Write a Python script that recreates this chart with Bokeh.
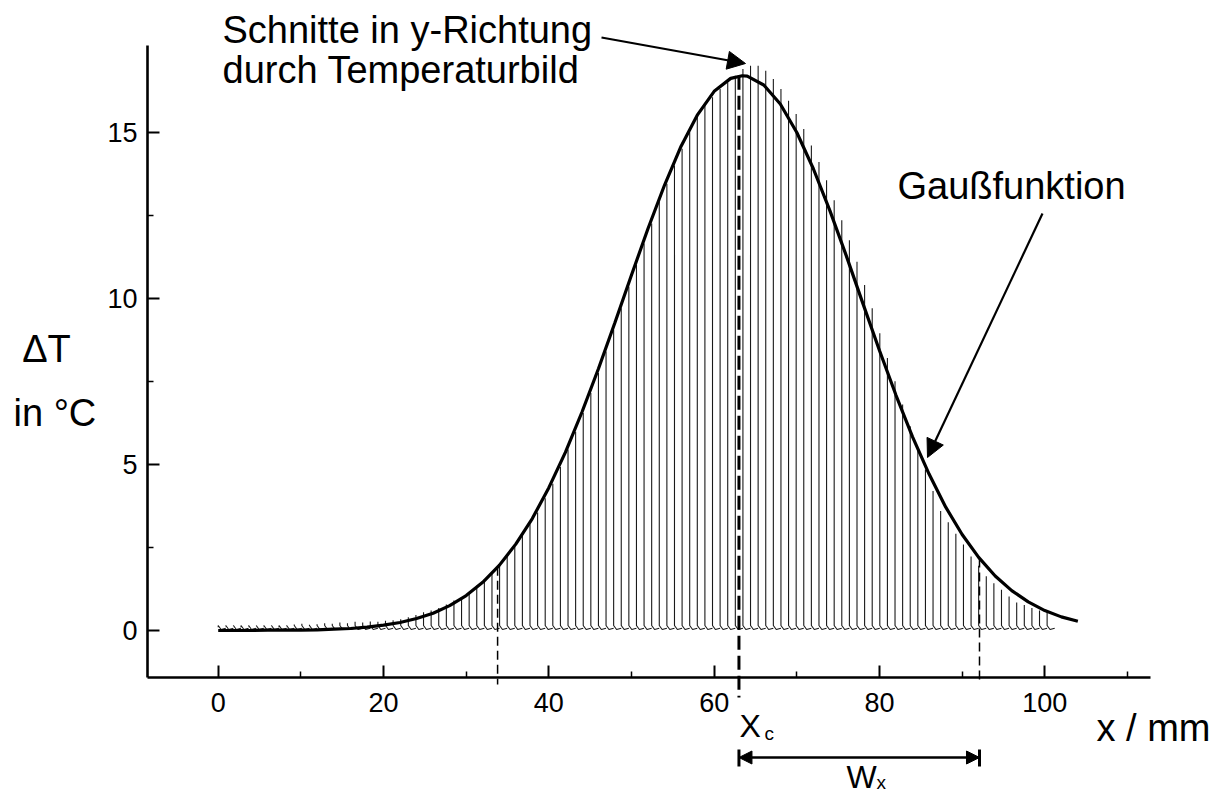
import numpy as np
from bokeh.plotting import figure
from bokeh.models import Range1d, FixedTicker, Label, Arrow, NormalHead
from bokeh.embed import file_html
from bokeh.resources import INLINE

# ---------------- data ----------------
x_ticks = [0, 20, 40, 60, 80, 100]
x_minor = [10, 30, 50, 70, 90, 110]
y_ticks = [0, 5, 10, 15]
y_minor = [2.5, 7.5, 12.5]

# tops of the y-direction cuts (one cut every 0.92 mm, starting at x = 0)
cut_step = 0.92
cut_tops = [
    0.10, 0.12, 0.14, 0.10, 0.12, 0.15, 0.12, 0.14, 0.10, 0.13,
    0.18, 0.20, 0.17, 0.19, 0.22, 0.20, 0.24, 0.22, 0.26, 0.24,
    0.27, 0.26, 0.29, 0.31, 0.34, 0.40, 0.47, 0.55, 0.60, 0.68,
    0.78, 0.90, 1.00, 1.15, 1.35, 1.55, 1.76, 1.98, 2.25, 2.52,
    2.85, 3.20, 3.55, 3.98, 4.42, 4.92, 5.45, 5.98, 6.55, 7.15,
    7.75, 8.40, 9.05, 9.70, 10.35, 11.00, 11.65, 12.25, 12.90, 13.45,
    14.00, 14.50, 15.00, 15.50, 15.85, 16.05, 16.30, 16.50, 16.70, 16.90,
    17.00, 17.00, 16.85, 16.60, 16.30, 15.95, 15.55, 15.10, 14.60, 14.10,
    13.55, 12.95, 12.35, 11.75, 11.10, 10.40, 9.70, 8.95, 8.20, 7.50,
    6.80, 6.15, 5.45, 4.85, 4.20, 3.60, 3.26, 2.91, 2.59, 2.23,
    1.95, 1.63, 1.42, 1.23, 1.02, 0.84, 0.77, 0.68, 0.60, 0.57,
]
cut_x = [round(i * cut_step, 2) for i in range(len(cut_tops))]

# fitted Gauss function
gauss_x = [0, 2, 4, 6, 8, 10, 12, 14, 16, 18, 20, 22, 24, 26, 28, 30, 32, 34,
           36, 38, 40, 42, 44, 46, 48, 50, 52, 54, 56, 58, 60, 62, 63.4, 64,
           66, 68, 70, 72, 74, 76, 78, 80, 82, 84, 86, 88, 90, 92, 94, 96, 98,
           100, 102, 104]
gauss_y = [0.00, 0.00, 0.00, 0.01, 0.01, 0.01, 0.02, 0.04, 0.06, 0.10, 0.16,
           0.24, 0.36, 0.52, 0.75, 1.05, 1.45, 1.96, 2.60, 3.37, 4.30, 5.36,
           6.57, 7.88, 9.27, 10.70, 12.10, 13.41, 14.58, 15.53, 16.23, 16.62,
           16.70, 16.69, 16.42, 15.85, 14.99, 13.90, 12.64, 11.27, 9.84, 8.43,
           7.08, 5.83, 4.71, 3.72, 2.89, 2.20, 1.64, 1.20, 0.86, 0.60, 0.41,
           0.28]

x_c, x_c_top = 63.0, 16.70          # centre of the Gauss function
x_lo, x_lo_top = 33.8, 1.92          # x_c - w_x
x_hi, x_hi_top = 92.1, 2.17          # x_c + w_x

# ---------------- layout helpers (screen pixels -> data) ----------------
X0_PX, X_SCALE = 217.7, 8.266
Y0_PX, Y_SCALE = 630.0, 33.22


def px2x(px):
    return (px - X0_PX) / X_SCALE


def px2y(py):
    return (Y0_PX - py) / Y_SCALE


W, H = 1218, 796
p = figure(width=W, height=H, output_backend="svg", toolbar_location=None,
           x_range=Range1d(px2x(0), px2x(W)),
           y_range=Range1d(px2y(H), px2y(0)),
           min_border_left=0, min_border_right=0, min_border_top=0,
           min_border_bottom=0)
p.outline_line_color = None
p.grid.visible = False
p.background_fill_color = "white"
p.border_fill_color = "white"

FONT = "Liberation Sans"
x_axis_y = px2y(677)
y_axis_x = px2x(147)

for ax in (p.xaxis[0], p.yaxis[0]):
    ax.axis_line_width = 2.6
    ax.axis_line_color = "black"
    ax.major_tick_line_width = 2
    ax.minor_tick_line_width = 1.5
    ax.major_tick_in = 12
    ax.major_tick_out = 0
    ax.minor_tick_in = 6
    ax.minor_tick_out = 0
    ax.major_label_text_font = FONT
    ax.major_label_text_font_size = "27px"
    ax.major_label_text_color = "black"

p.xaxis.ticker = FixedTicker(ticks=x_ticks, minor_ticks=x_minor)
p.yaxis.ticker = FixedTicker(ticks=y_ticks, minor_ticks=y_minor)
p.xaxis.fixed_location = x_axis_y
p.yaxis.fixed_location = y_axis_x
p.xaxis.bounds = (y_axis_x, px2x(1150))
p.yaxis.bounds = (x_axis_y, px2y(45))
p.xaxis.major_label_standoff = 15
p.yaxis.major_label_standoff = 10

# ---------------- cuts ----------------
xs, ys = [], []
for x, t in zip(cut_x, cut_tops):
    xs.append([x, x, x + 0.35, x + cut_step])
    ys.append([t, 0.15, 0.03, 0.07])
p.multi_line(xs, ys, line_color="#1a1a1a", line_width=1.1)

# ---------------- Gauss curve ----------------
p.line(gauss_x, gauss_y, line_color="black", line_width=3.2)

# dashed markers
p.line([x_c, x_c], [x_c_top, px2y(697)], line_color="black", line_width=3,
       line_dash="14 6")
p.line([x_lo, x_lo], [x_lo_top, px2y(684)], line_color="black",
       line_width=1.5, line_dash="9 5")
p.line([x_hi, x_hi], [x_hi_top, px2y(684)], line_color="black",
       line_width=1.5, line_dash="9 5")

# w_x arrow
wy = px2y(757)
p.add_layout(Arrow(start=NormalHead(size=13, fill_color="black", line_color="black"),
                   end=NormalHead(size=13, fill_color="black", line_color="black"),
                   x_start=x_c, y_start=wy, x_end=x_hi, y_end=wy,
                   line_width=2.5, line_color="black"))
p.segment(x0=[x_c, x_hi], y0=[px2y(749), px2y(749)],
          x1=[x_c, x_hi], y1=[px2y(766), px2y(766)],
          line_color="black", line_width=3)

# ---------------- annotation arrows ----------------
p.add_layout(Arrow(end=NormalHead(size=18, fill_color="black", line_color="black"),
                   x_start=px2x(601), y_start=px2y(37),
                   x_end=px2x(745), y_end=px2y(63),
                   line_width=2.2, line_color="black"))
p.add_layout(Arrow(end=NormalHead(size=18, fill_color="black", line_color="black"),
                   x_start=px2x(1042), y_start=px2y(213),
                   x_end=px2x(927), y_end=px2y(457),
                   line_width=2.2, line_color="black"))


def label(text, px, py_mid, size, align="left"):
    # py_mid: vertical middle of the text line (screen pixels)
    p.add_layout(Label(x=px2x(px), y=px2y(py_mid), text=text, text_font=FONT,
                       text_font_size=size, text_color="black",
                       text_align=align, text_baseline="middle"))


label("Schnitte in y-Richtung", 222, 29, "38px")
label("durch Temperaturbild", 222, 69, "38px")
label("Gaußfunktion", 897, 185, "38px")
label("ΔT", 46, 348, "38px", align="center")
label("in °C", 13, 412, "38px")
label("x / mm", 1096, 727, "38px")
label("X", 739, 725, "32px")
label("c", 764, 733, "19px")
label("W", 846, 776, "32px")
label("x", 876, 782, "19px")

open("out.html", "w").write(file_html(p, INLINE))
